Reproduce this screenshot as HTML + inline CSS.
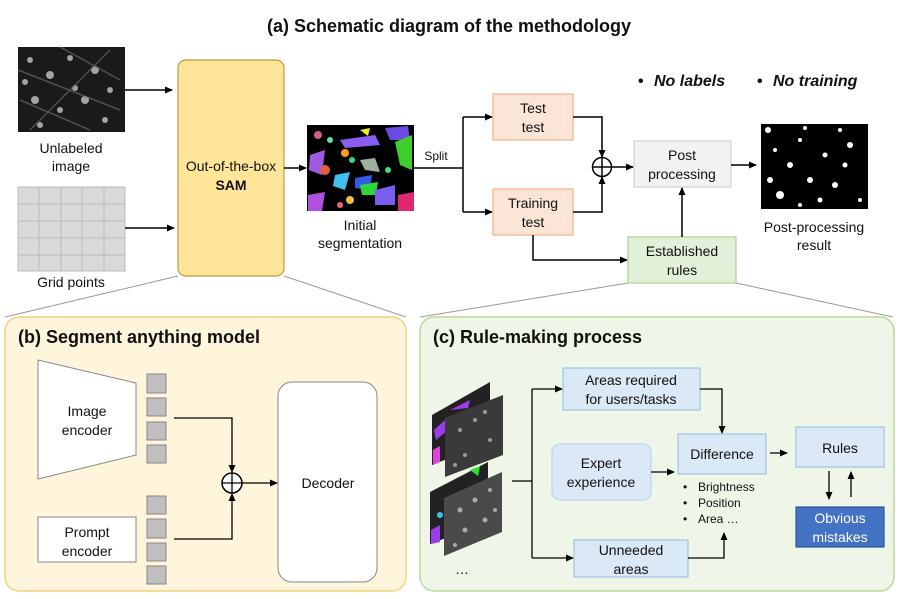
<!DOCTYPE html>
<html><head><meta charset="utf-8"><style>
html,body{margin:0;padding:0;background:#fff}
svg{display:block}
text{font-family:"Liberation Sans",Arial,sans-serif;fill:#111}
</style></head><body>
<svg width="899" height="599" viewBox="0 0 899 599" xmlns="http://www.w3.org/2000/svg">
<defs>
<marker id="a" markerWidth="8" markerHeight="8" refX="7" refY="4" orient="auto" markerUnits="userSpaceOnUse"><path d="M0,0.5 L8,4 L0,7.5 Z" fill="#000"/></marker>
</defs>
<text x="449" y="32" font-size="18" font-weight="bold" text-anchor="middle">(a) Schematic diagram of the methodology</text>

<!-- panels -->
<line x1="178" y1="276" x2="5" y2="317" stroke="#999" stroke-width="1"/>
<line x1="284" y1="276" x2="406" y2="317" stroke="#999" stroke-width="1"/>
<line x1="628" y1="283" x2="420" y2="317" stroke="#999" stroke-width="1"/>
<line x1="736" y1="283" x2="893" y2="317" stroke="#999" stroke-width="1"/>
<rect x="5" y="317" width="401" height="274" rx="14" fill="#fff5dd" stroke="#f3d27a" stroke-width="1.5"/>
<rect x="420" y="317" width="474" height="274" rx="14" fill="#eff6e7" stroke="#b8d89c" stroke-width="1.5"/>

<!-- unlabeled image -->
<rect x="18" y="47" width="107" height="85" fill="#1a1a1a"/>
<g fill="#bbb" opacity="0.85">
<circle cx="30" cy="60" r="3"/><circle cx="50" cy="75" r="4"/><circle cx="70" cy="58" r="3"/><circle cx="95" cy="70" r="4"/><circle cx="110" cy="90" r="3"/>
<circle cx="35" cy="100" r="4"/><circle cx="60" cy="110" r="3"/><circle cx="85" cy="100" r="4"/><circle cx="105" cy="120" r="3"/><circle cx="40" cy="125" r="3"/><circle cx="75" cy="88" r="3"/><circle cx="25" cy="82" r="3"/>
</g>
<g stroke="#666" stroke-width="1.5" opacity="0.7"><line x1="18" y1="70" x2="120" y2="110"/><line x1="30" y1="130" x2="110" y2="50"/><line x1="20" y1="100" x2="90" y2="130"/><line x1="60" y1="47" x2="120" y2="80"/></g>
<text x="71" y="153" font-size="14" text-anchor="middle">Unlabeled</text>
<text x="71" y="171" font-size="14" text-anchor="middle">image</text>

<!-- grid -->
<rect x="18" y="187" width="107" height="84" fill="#d9d9d9" stroke="#bbb"/>
<g stroke="#bcbcbc" stroke-width="1">
<line x1="39" y1="187" x2="39" y2="271"/><line x1="61" y1="187" x2="61" y2="271"/><line x1="82" y1="187" x2="82" y2="271"/><line x1="104" y1="187" x2="104" y2="271"/>
<line x1="18" y1="204" x2="125" y2="204"/><line x1="18" y1="221" x2="125" y2="221"/><line x1="18" y1="238" x2="125" y2="238"/><line x1="18" y1="255" x2="125" y2="255"/>
</g>
<text x="71" y="287" font-size="14" text-anchor="middle">Grid points</text>

<line x1="125" y1="90" x2="172" y2="90" stroke="#000" stroke-width="1.5" marker-end="url(#a)"/>
<line x1="125" y1="228" x2="174" y2="228" stroke="#000" stroke-width="1.5" marker-end="url(#a)"/>

<rect x="178" y="60" width="106" height="216" rx="8" fill="#ffe599" stroke="#bf9a36" stroke-width="1.2"/>
<text x="231" y="171" font-size="14" text-anchor="middle">Out-of-the-box</text>
<text x="231" y="190" font-size="14" font-weight="bold" text-anchor="middle">SAM</text>
<line x1="284" y1="168" x2="306" y2="168" stroke="#000" stroke-width="1.5" marker-end="url(#a)"/>

<!-- initial seg -->
<rect x="307" y="125" width="107" height="86" fill="#000"/>
<g>
<polygon points="340,140 375,135 380,145 345,148" fill="#8a5cf0"/><polygon points="385,128 408,126 410,140 390,140" fill="#6a4be0"/>
<polygon points="395,142 412,135 412,170 400,165" fill="#3ccf2c"/><polygon points="310,155 325,150 322,175 309,170" fill="#a05ae0"/>
<circle cx="345" cy="153" r="4" fill="#ff9a20"/><circle cx="352" cy="160" r="3" fill="#3ad66d"/>
<polygon points="360,160 375,158 380,172 365,170" fill="#a0b0a0"/><circle cx="325" cy="170" r="5" fill="#e06040"/>
<polygon points="335,175 350,172 345,190 333,186" fill="#40c0f0"/><polygon points="355,178 372,175 370,190 355,188" fill="#2f5be8"/>
<polygon points="360,185 378,182 376,195 362,195" fill="#2ed63a"/><polygon points="375,190 395,185 395,205 375,205" fill="#7b5cf0"/>
<polygon points="398,195 414,192 414,211 398,211" fill="#e02870"/><polygon points="308,195 325,192 322,211 308,211" fill="#b050e0"/>
<circle cx="388" cy="170" r="3" fill="#40e070"/><circle cx="318" cy="135" r="4" fill="#d06080"/><circle cx="330" cy="140" r="3" fill="#60e0a0"/>
<circle cx="350" cy="200" r="4" fill="#f0c040"/><circle cx="340" cy="205" r="3" fill="#f06080"/><polygon points="360,130 370,128 368,136" fill="#f0f020"/>
</g>
<text x="360" y="230" font-size="14" text-anchor="middle">Initial</text>
<text x="360" y="248" font-size="14" text-anchor="middle">segmentation</text>

<!-- split -->
<text x="436" y="160" font-size="12" text-anchor="middle">Split</text>
<polyline points="414,168 463,168" fill="none" stroke="#000" stroke-width="1.5"/>
<line x1="463" y1="117" x2="463" y2="212" stroke="#000" stroke-width="1.5"/>
<line x1="463" y1="117" x2="492" y2="117" stroke="#000" stroke-width="1.5" marker-end="url(#a)"/>
<line x1="463" y1="212" x2="492" y2="212" stroke="#000" stroke-width="1.5" marker-end="url(#a)"/>
<rect x="493" y="94" width="80" height="46" fill="#fbe5d6" stroke="#f4b183" stroke-width="1.2"/>
<text x="533" y="113" font-size="14" text-anchor="middle">Test</text>
<text x="533" y="132" font-size="14" text-anchor="middle">test</text>
<rect x="493" y="189" width="80" height="46" fill="#fbe5d6" stroke="#f4b183" stroke-width="1.2"/>
<text x="533" y="208" font-size="14" text-anchor="middle">Training</text>
<text x="533" y="227" font-size="14" text-anchor="middle">test</text>
<polyline points="573,117 602,117 602,157" fill="none" stroke="#000" stroke-width="1.5" marker-end="url(#a)"/>
<polyline points="573,212 602,212 602,177" fill="none" stroke="#000" stroke-width="1.5" marker-end="url(#a)"/>
<circle cx="602" cy="167" r="9.5" fill="#fff" stroke="#000" stroke-width="1.5"/>
<line x1="592.5" y1="167" x2="611.5" y2="167" stroke="#000" stroke-width="1.5"/><line x1="602" y1="157.5" x2="602" y2="176.5" stroke="#000" stroke-width="1.5"/>
<line x1="611" y1="167" x2="633" y2="167" stroke="#000" stroke-width="1.5" marker-end="url(#a)"/>
<rect x="634" y="141" width="97" height="46" fill="#f2f2f2" stroke="#cfcfcf" stroke-width="1.2"/>
<text x="682" y="160" font-size="14" text-anchor="middle">Post</text>
<text x="682" y="179" font-size="14" text-anchor="middle">processing</text>
<line x1="731" y1="165" x2="756" y2="165" stroke="#000" stroke-width="1.5" marker-end="url(#a)"/>
<!-- result -->
<rect x="761" y="124" width="107" height="85" fill="#000"/>
<g fill="#fff">
<circle cx="768" cy="130" r="3"/><circle cx="775" cy="150" r="2"/><circle cx="790" cy="165" r="3"/><circle cx="800" cy="140" r="2"/><circle cx="810" cy="180" r="3"/><circle cx="825" cy="155" r="2.5"/><circle cx="835" cy="185" r="3"/><circle cx="845" cy="165" r="2.5"/><circle cx="850" cy="145" r="3"/><circle cx="780" cy="195" r="4"/><circle cx="770" cy="180" r="3"/><circle cx="860" cy="200" r="2"/><circle cx="820" cy="200" r="2.5"/><circle cx="800" cy="205" r="2"/><circle cx="840" cy="130" r="2"/><circle cx="805" cy="128" r="2"/>
</g>
<text x="814" y="232" font-size="14" text-anchor="middle">Post-processing</text>
<text x="814" y="250" font-size="14" text-anchor="middle">result</text>

<polyline points="533,235 533,260 627,260" fill="none" stroke="#000" stroke-width="1.5" marker-end="url(#a)"/>
<rect x="628" y="237" width="108" height="46" fill="#e2efd9" stroke="#a9d18e" stroke-width="1.2"/>
<text x="682" y="256" font-size="14" text-anchor="middle">Established</text>
<text x="682" y="275" font-size="14" text-anchor="middle">rules</text>
<line x1="682" y1="237" x2="682" y2="188" stroke="#000" stroke-width="1.5" marker-end="url(#a)"/>

<text x="638" y="86" font-size="16" font-weight="bold">•</text>
<text x="654" y="86" font-size="16" font-weight="bold" font-style="italic">No labels</text>
<text x="757" y="86" font-size="16" font-weight="bold">•</text>
<text x="773" y="86" font-size="16" font-weight="bold" font-style="italic">No training</text>

<!-- panel b -->
<text x="18" y="343" font-size="18" font-weight="bold">(b) Segment anything model</text>
<polygon points="38,360 136,383 136,455 38,479" fill="#fff" stroke="#888" stroke-width="1"/>
<text x="87" y="416" font-size="14" text-anchor="middle">Image</text>
<text x="87" y="435" font-size="14" text-anchor="middle">encoder</text>
<rect x="38" y="517" width="98" height="45" fill="#fff" stroke="#888" stroke-width="1"/>
<text x="87" y="537" font-size="14" text-anchor="middle">Prompt</text>
<text x="87" y="556" font-size="14" text-anchor="middle">encoder</text>
<g fill="#bfbfbf" stroke="#888" stroke-width="1">
<rect x="147" y="374" width="19" height="19"/><rect x="147" y="398" width="19" height="18"/><rect x="147" y="422" width="19" height="18"/><rect x="147" y="445" width="19" height="18"/>
<rect x="147" y="496" width="19" height="18"/><rect x="147" y="519" width="19" height="19"/><rect x="147" y="543" width="19" height="18"/><rect x="147" y="566" width="19" height="18"/>
</g>
<polyline points="174,418 232,418 232,472" fill="none" stroke="#000" stroke-width="1.3" marker-end="url(#a)"/>
<polyline points="174,539 232,539 232,494" fill="none" stroke="#000" stroke-width="1.3" marker-end="url(#a)"/>
<circle cx="232" cy="483" r="10" fill="#fff" stroke="#000" stroke-width="1.5"/>
<line x1="222" y1="483" x2="242" y2="483" stroke="#000" stroke-width="1.3"/><line x1="232" y1="473" x2="232" y2="493" stroke="#000" stroke-width="1.3"/>
<line x1="242" y1="483" x2="277" y2="483" stroke="#000" stroke-width="1.3" marker-end="url(#a)"/>
<rect x="278" y="382" width="99" height="200" rx="14" fill="#fff" stroke="#888" stroke-width="1"/>
<text x="328" y="488" font-size="14" text-anchor="middle">Decoder</text>

<!-- panel c -->
<text x="433" y="343" font-size="18" font-weight="bold">(c) Rule-making process</text>
<polygon points="432,415 490,382 490,442 432,465" fill="#222"/>
<g fill="#9a3ce8"><polygon points="434,430 445,420 448,430 436,440"/><polygon points="450,410 470,400 468,408"/></g>
<g fill="#e040e0"><polygon points="433,450 440,446 440,462 433,465"/></g>
<polygon points="445,418 503,395 503,455 445,477" fill="#3a3a3a"/>
<g fill="#999"><circle cx="460" cy="430" r="2"/><circle cx="475" cy="420" r="2"/><circle cx="490" cy="440" r="2"/><circle cx="465" cy="455" r="2"/><circle cx="485" cy="412" r="2"/><circle cx="455" cy="465" r="2"/></g>
<polygon points="430,492 488,462 488,522 430,544" fill="#222"/>
<g fill="#40c0f0"><circle cx="440" cy="515" r="3"/></g><g fill="#9a3ce8"><polygon points="431,530 440,525 440,542 431,544"/></g><g fill="#30e030"><polygon points="470,470 480,466 478,476"/></g>
<polygon points="444,498 502,472 502,532 444,556" fill="#4a4a4a"/>
<g fill="#aaa"><circle cx="460" cy="510" r="2.5"/><circle cx="475" cy="500" r="2.5"/><circle cx="490" cy="490" r="2"/><circle cx="465" cy="530" r="2.5"/><circle cx="485" cy="520" r="2.5"/><circle cx="455" cy="545" r="2"/><circle cx="495" cy="510" r="2"/></g>
<text x="462" y="574" font-size="14" text-anchor="middle">…</text>

<line x1="512" y1="481" x2="532" y2="481" stroke="#000" stroke-width="1.3"/>
<line x1="532" y1="389" x2="532" y2="558" stroke="#000" stroke-width="1.3"/>
<line x1="532" y1="389" x2="562" y2="389" stroke="#000" stroke-width="1.3" marker-end="url(#a)"/>
<line x1="532" y1="558" x2="573" y2="558" stroke="#000" stroke-width="1.3" marker-end="url(#a)"/>
<rect x="563" y="368" width="137" height="42" fill="#dbe8f6" stroke="#9dc3e6" stroke-width="1.2"/>
<text x="631" y="385" font-size="14" text-anchor="middle">Areas required</text>
<text x="631" y="404" font-size="14" text-anchor="middle">for users/tasks</text>
<polyline points="700,389 722,389 722,433" fill="none" stroke="#000" stroke-width="1.3" marker-end="url(#a)"/>
<rect x="552" y="444" width="99" height="56" rx="8" fill="#dbe8f6" stroke="#bcd6ee" stroke-width="1.2"/>
<text x="601" y="468" font-size="14" text-anchor="middle">Expert</text>
<text x="601" y="487" font-size="14" text-anchor="middle">experience</text>
<line x1="651" y1="472" x2="674" y2="472" stroke="#000" stroke-width="1.3" marker-end="url(#a)"/>
<rect x="678" y="434" width="88" height="40" fill="#dbe8f6" stroke="#9dc3e6" stroke-width="1.2"/>
<text x="722" y="459" font-size="14" text-anchor="middle">Difference</text>
<g font-size="12"><text x="683" y="491">•</text><text x="698" y="491">Brightness</text>
<text x="683" y="507">•</text><text x="698" y="507">Position</text>
<text x="683" y="523">•</text><text x="698" y="523">Area …</text></g>
<rect x="574" y="540" width="114" height="37" fill="#dbe8f6" stroke="#9dc3e6" stroke-width="1.2"/>
<text x="631" y="555" font-size="14" text-anchor="middle">Unneeded</text>
<text x="631" y="574" font-size="14" text-anchor="middle">areas</text>
<polyline points="688,558 724,558 724,533" fill="none" stroke="#000" stroke-width="1.3" marker-end="url(#a)"/>
<line x1="770" y1="453" x2="787" y2="453" stroke="#000" stroke-width="1.3" marker-end="url(#a)"/>
<rect x="796" y="427" width="88" height="40" fill="#dbe8f6" stroke="#9dc3e6" stroke-width="1.2"/>
<text x="840" y="453" font-size="14" text-anchor="middle">Rules</text>
<line x1="829" y1="471" x2="829" y2="499" stroke="#000" stroke-width="1.3" marker-end="url(#a)"/>
<line x1="851" y1="497" x2="851" y2="472" stroke="#000" stroke-width="1.3" marker-end="url(#a)"/>
<rect x="796" y="507" width="88" height="40" fill="#4472c4" stroke="#2f5597" stroke-width="1.2"/>
<text x="840" y="523" font-size="14" text-anchor="middle" style="fill:#fff">Obvious</text>
<text x="840" y="542" font-size="14" text-anchor="middle" style="fill:#fff">mistakes</text>
</svg>
</body></html>
